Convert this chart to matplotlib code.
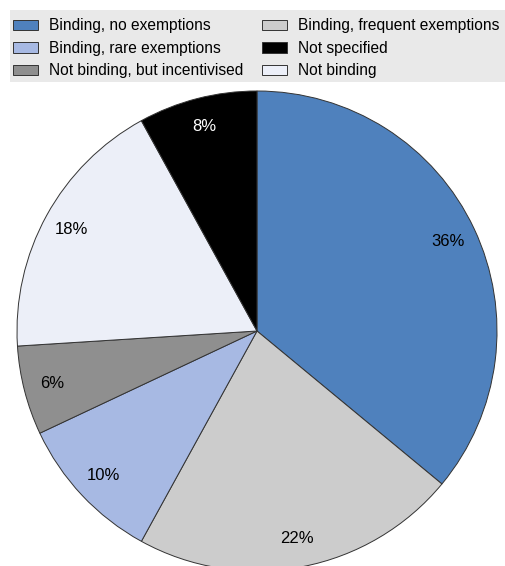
import matplotlib.pyplot as plt
from matplotlib.patches import Rectangle

labels = ['Binding, no exemptions', 'Binding, frequent exemptions',
          'Binding, rare exemptions', 'Not binding, but incentivised',
          'Not binding', 'Not specified']
shares = [36, 22, 10, 6, 18, 8]
colors = ['#4f81bd', '#cccccc', '#a7b9e3', '#8f8f8f', '#eceff8', '#000000']
text_colors = ['black', 'black', 'black', 'black', 'black', 'white']

# order of entries in the legend (2 columns, filled row by row)
legend_order = [0, 2, 3, 1, 5, 4]

plt.rcParams['font.family'] = ['Liberation Sans', 'DejaVu Sans']

W, H = 505, 566
fig = plt.figure(figsize=(W / 100, H / 100), dpi=100)

# pie: centre (257, 331) px, radius 240 px
cx, cy, r = 257, 331, 240
ax = fig.add_axes([(cx - r) / W, (H - cy - r) / H, 2 * r / W, 2 * r / H])
wedges, texts, autotexts = ax.pie(
    shares, colors=colors, startangle=90, counterclock=False,
    autopct='%d%%', pctdistance=0.88,
    wedgeprops=dict(edgecolor='#333333', linewidth=0.7),
    textprops=dict(fontsize=12))
for t, c in zip(autotexts, text_colors):
    t.set_color(c)
ax.set_xlim(-1, 1)
ax.set_ylim(-1, 1)
ax.set_aspect('equal')
ax.axis('off')
for w in wedges:
    w.set_clip_on(False)

# legend box
fig.patches.append(Rectangle((10 / W, 1 - 82 / H), 1 - 10 / W, 72 / H,
                             transform=fig.transFigure, facecolor='#e9e9e9',
                             edgecolor='none', zorder=0))
leg = fig.legend([wedges[i] for i in legend_order],
                 [labels[i] for i in legend_order],
                 ncol=2, loc='upper left', bbox_to_anchor=(1 / W, 1 - 6 / H),
                 frameon=False, fontsize=11.2, handlelength=1.6, handleheight=0.65,
                 handletextpad=0.7, columnspacing=1.2, labelspacing=0.48,
                 borderpad=0.3)

fig.savefig('out.png', dpi=100)
